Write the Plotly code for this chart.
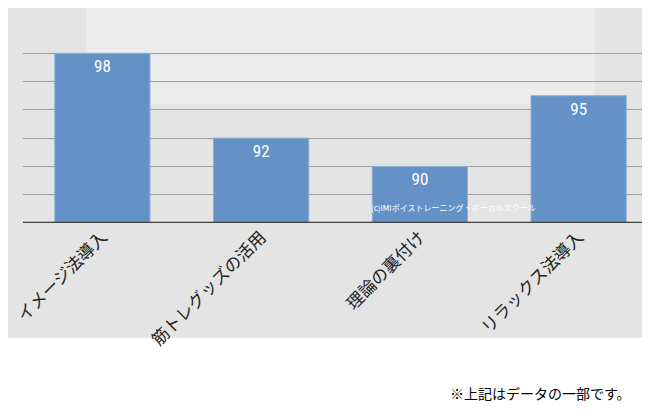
import plotly.graph_objects as go

categories = ["イメージ法導入", "筋トレグッズの活用", "理論の裏付け", "リラックス法導入"]
scores = [98, 92, 90, 95]

fig = go.Figure(go.Bar(
    x=categories, y=scores,
    marker=dict(color="#6592c6", line=dict(color="#8fb0d8", width=1)),
    width=0.6,
    text=[str(v) for v in scores], textposition="inside", insidetextanchor="end",
    textfont=dict(color="white", size=17, family="Roboto Condensed, Roboto, Arial"),
))

fig.update_layout(
    width=650, height=419,
    margin=dict(l=15, r=0, t=17, b=204),
    paper_bgcolor="white", plot_bgcolor="rgba(0,0,0,0)",
    showlegend=False,
    font=dict(family="Noto Sans CJK JP", color="#222222"),
    xaxis=dict(tickangle=-45, tickfont=dict(size=17), showgrid=False, showline=False,
               ticks="", automargin=False),
    yaxis=dict(range=[86, 100], dtick=2, showticklabels=False, gridcolor="#9e9e9e",
               gridwidth=1, zeroline=False, automargin=False),
    shapes=[
        dict(type="rect", xref="paper", yref="paper", x0=-0.024, x1=1, y0=-0.58, y1=1.086,
             fillcolor="#e4e4e4", line_width=0, layer="below"),
        dict(type="rect", xref="paper", yref="paper", x0=0.1, x1=0.9, y0=0.6, y1=1.086,
             fillcolor="#ececec", line_width=0, layer="below"),
        dict(type="line", xref="paper", yref="y", x0=0, x1=1, y0=86, y1=86,
             line=dict(color="#404040", width=2.5)),
    ],
    annotations=[
        dict(text="(c)IMIボイストレーニング・ボーカルスクール", xref="paper", yref="paper",
             x=0.81, y=0.04, showarrow=False, font=dict(size=8, color="white")),
        dict(text="※上記はデータの一部です。", xref="paper", yref="paper",
             x=0.96, y=-0.92, xanchor="right", showarrow=False,
             font=dict(size=14, color="black")),
    ],
)

fig.write_html("out.html")
